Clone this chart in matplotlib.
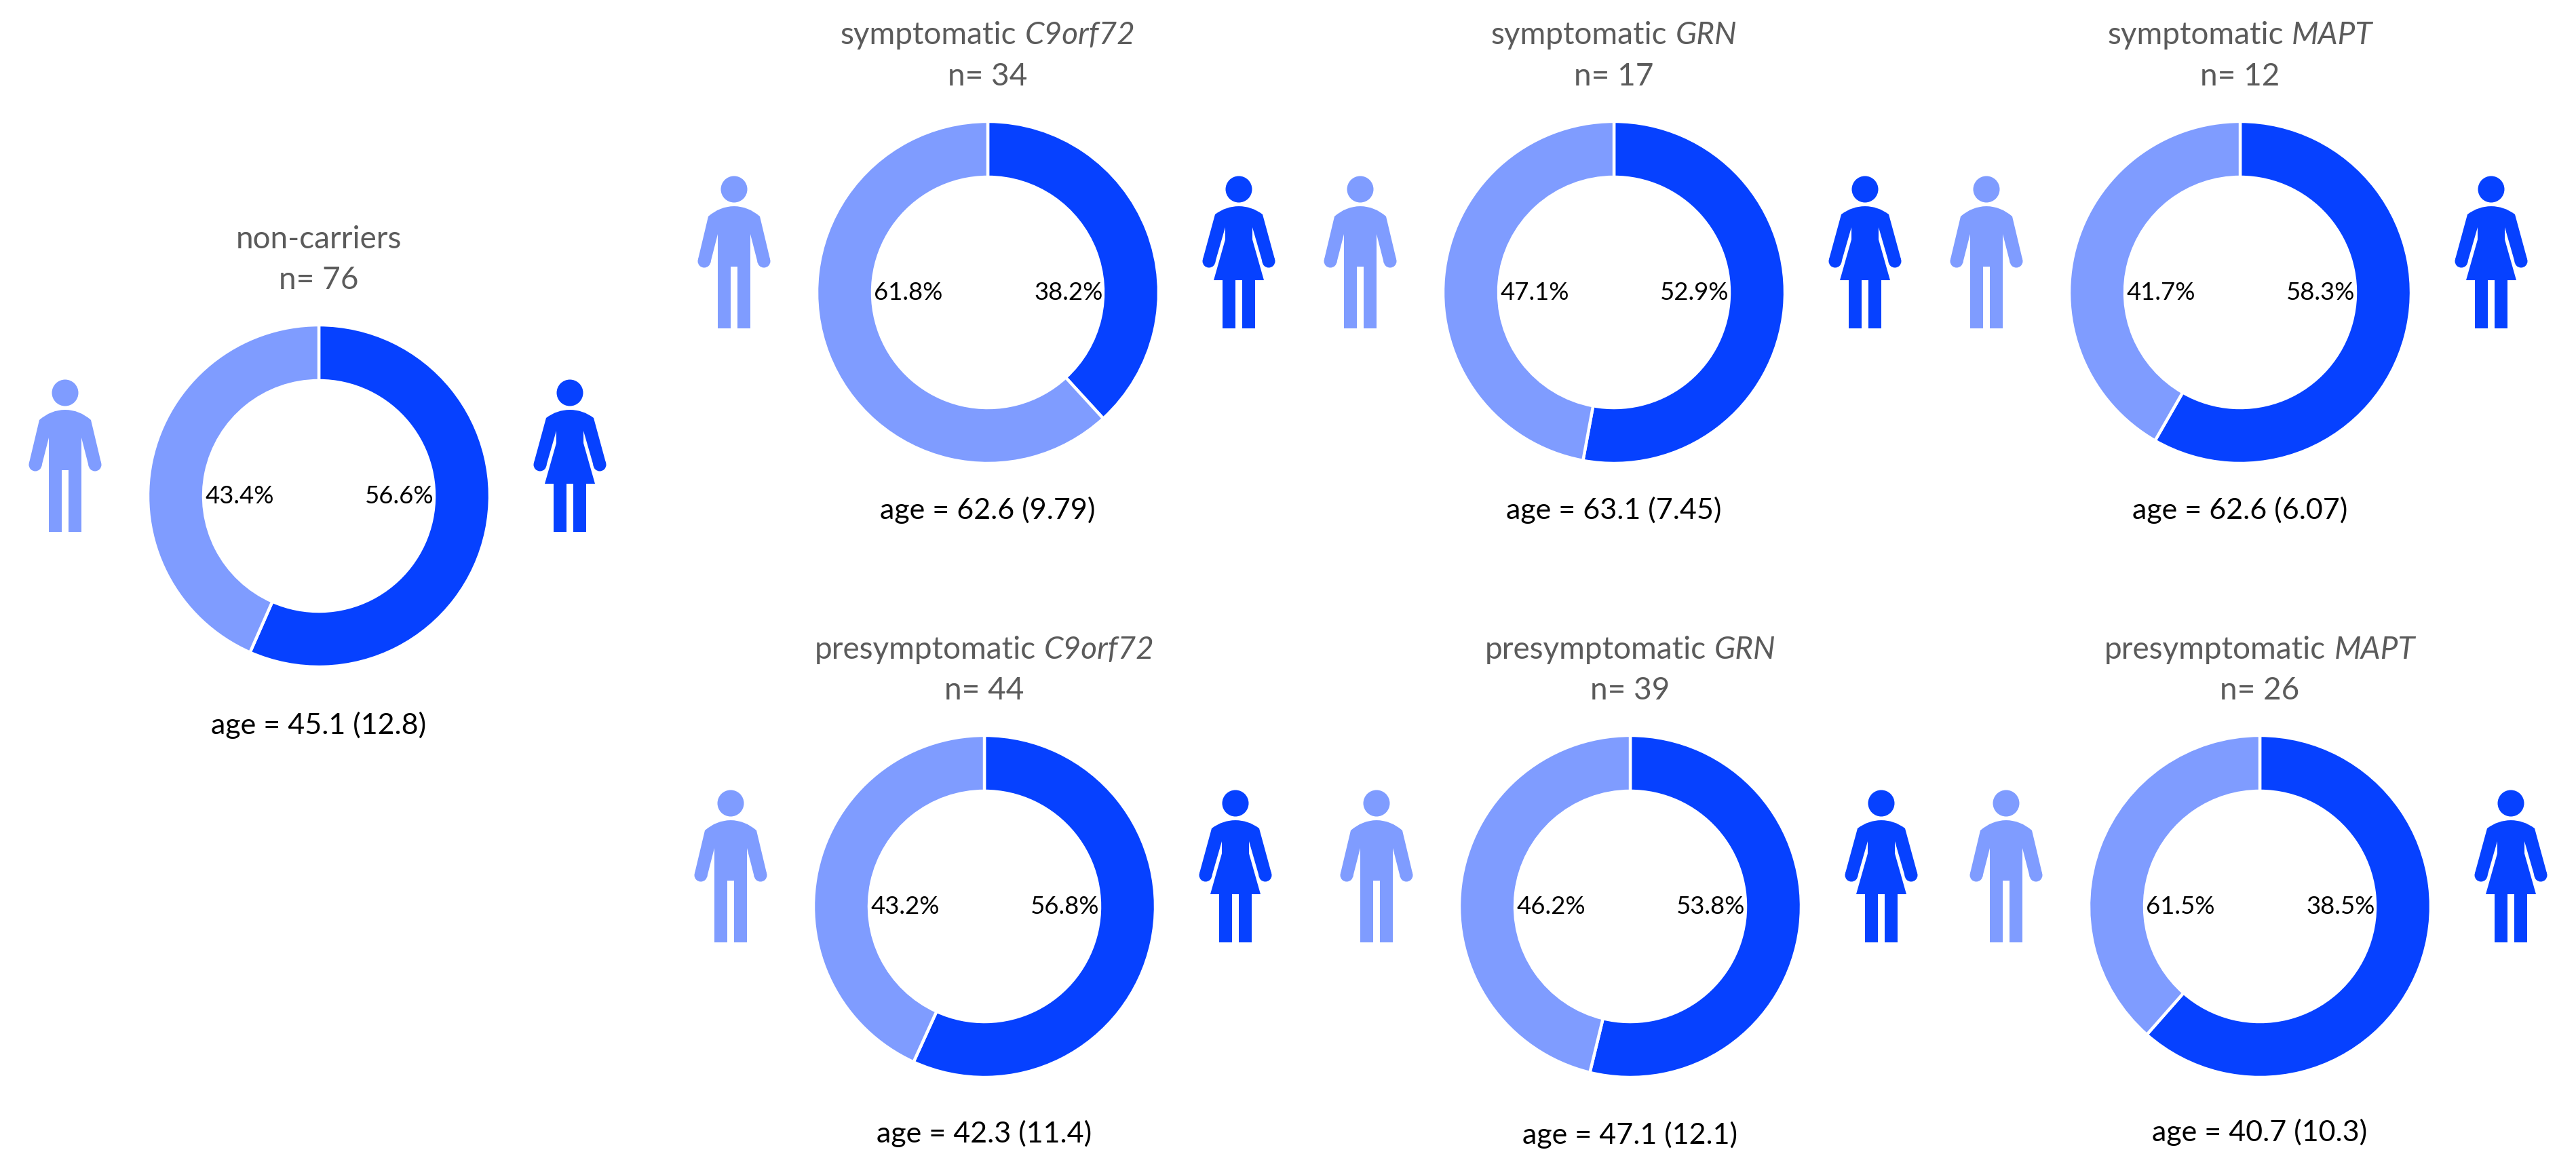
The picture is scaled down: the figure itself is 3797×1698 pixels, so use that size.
import matplotlib
matplotlib.use("Agg")
import matplotlib.pyplot as plt
from matplotlib.patches import Circle, PathPatch
from matplotlib.path import Path

WIDTH = 3798
HEIGHT = 1699

# group data
group_names = ["non-carriers", "symptomatic", "symptomatic", "symptomatic",
               "presymptomatic", "presymptomatic", "presymptomatic"]
genes = ["", "C9orf72", "GRN", "MAPT", "C9orf72", "GRN", "MAPT"]
n_subjects = [76, 34, 17, 12, 44, 39, 26]
# ring shares; the presymptomatic MAPT ring runs the other way round from its labels
dark_share = [56.6, 38.2, 52.9, 58.3, 56.8, 53.8, 61.5]
light_share = [43.4, 61.8, 47.1, 41.7, 43.2, 46.2, 38.5]
female_label = [56.6, 38.2, 52.9, 58.3, 56.8, 53.8, 38.5]
male_label = [43.4, 61.8, 47.1, 41.7, 43.2, 46.2, 61.5]
age_mean = ["45.1", "62.6", "63.1", "62.6", "42.3", "47.1", "40.7"]
age_sd = ["12.8", "9.79", "7.45", "6.07", "11.4", "12.1", "10.3"]

# layout in pixels, y measured from the top
center_x = [470, 1456, 2379, 3302, 1451, 2403, 3331]
center_y = [732, 432, 432, 432, 1337, 1337, 1337]
title_y = [366, 65, 65, 65, 971, 971, 971]
n_y = [426, 126, 126, 126, 1031, 1031, 1031]
age_y = [1082, 765, 765, 765, 1684, 1686, 1682]

DARK = "#0641FF"
LIGHT = "#7F9CFF"
GREY = "#5B5B5B"
RADIUS = 252
RING = 82

plt.rcParams["font.family"] = ["Lato", "DejaVu Sans"]

fig = plt.figure(figsize=(WIDTH / 100, HEIGHT / 100), dpi=100, facecolor="white")
ax = fig.add_axes([0, 0, 1, 1])


def mirrored(right_side):
    """Outline of a figure from its right half, going back along the left."""
    left = [(-x, y) for x, y in reversed(right_side)]
    return right_side + left


def draw_person(cx, top, kind, color):
    if kind == "man":
        half = [(38, 60), (53, 123), (35, 129), (24, 86), (24, 225), (5, 225), (5, 134)]
    else:
        half = [(35, 57), (53, 123), (35, 128), (20, 76), (20, 94), (37, 154),
                (24, 154), (24, 225), (5, 225), (5, 154)]
    outline = mirrored(half)
    verts = [(0, 45)] + [(half[0][0] * 0.55, 45), half[0]]
    codes = [Path.MOVETO, Path.CURVE3, Path.CURVE3]
    verts += outline[1:-1]
    codes += [Path.LINETO] * (len(outline) - 2)
    verts += [outline[-1], (-half[0][0] * 0.55, 45), (0, 45), (0, 45)]
    codes += [Path.LINETO, Path.CURVE3, Path.CURVE3, Path.CLOSEPOLY]
    pts = [(cx + x, HEIGHT - top - y) for x, y in verts]
    ax.add_patch(PathPatch(Path(pts, codes), fc=color, ec="none"))
    ax.add_patch(Circle((cx, HEIGHT - top - 20), 19.5, fc=color, ec="none"))
    for side in (-1, 1):
        ax.add_patch(Circle((cx + side * 44, HEIGHT - top - 126), 9.5, fc=color, ec="none"))


def draw_title(cx, y, name, gene):
    """Group name in regular type, gene name in italics, centred together."""
    renderer = fig.canvas.get_renderer()
    t1 = ax.text(cx, HEIGHT - y, name, fontsize=33, color=GREY, ha="left", va="baseline")
    if not gene:
        w = t1.get_window_extent(renderer).width
        t1.set_x(cx - w / 2)
        return
    t2 = ax.text(cx, HEIGHT - y, gene, fontsize=33, color=GREY, style="italic",
                 ha="left", va="baseline")
    w1 = t1.get_window_extent(renderer).width
    w2 = t2.get_window_extent(renderer).width
    gap = 12
    left = cx - (w1 + gap + w2) / 2
    t1.set_x(left)
    t2.set_x(left + w1 + gap)


for i in range(len(group_names)):
    cx = center_x[i]
    cy = HEIGHT - center_y[i]
    ax.pie([dark_share[i], light_share[i]], colors=[DARK, LIGHT], startangle=90,
           counterclock=False, center=(cx, cy), radius=RADIUS,
           wedgeprops=dict(width=RING, edgecolor="white", linewidth=3.2))

    ax.text(cx - 117, cy, f"{male_label[i]}%", fontsize=26.3, ha="center", va="center", color="black")
    ax.text(cx + 119, cy, f"{female_label[i]}%", fontsize=26.3, ha="center", va="center", color="black")

    draw_title(cx, title_y[i], group_names[i], genes[i])
    ax.text(cx, HEIGHT - n_y[i], f"n= {n_subjects[i]}", fontsize=33, color=GREY,
            ha="center", va="baseline")
    ax.text(cx, HEIGHT - age_y[i], f"age = {age_mean[i]} ({age_sd[i]})", fontsize=31,
            color="black", ha="center", va="baseline")

    top = center_y[i] - 172
    draw_person(cx - 374, top, "man", LIGHT)
    draw_person(cx + 370, top, "woman", DARK)

ax.set_xlim(0, WIDTH)
ax.set_ylim(0, HEIGHT)
ax.set_aspect("equal")
ax.axis("off")

fig.savefig("out.png", dpi=100, facecolor="white")
